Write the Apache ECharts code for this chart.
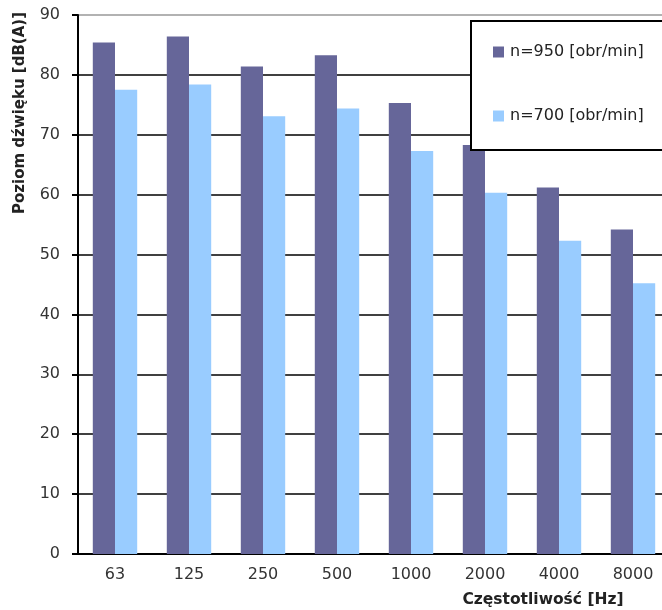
<!DOCTYPE html>
<html>
<head>
<meta charset="utf-8">
<script src="https://cdn.jsdelivr.net/npm/echarts@6/dist/echarts.min.js"></script>
<style>html,body{margin:0;padding:0;background:#fff}#c{width:662px;height:610px}</style>
</head>
<body>
<div id="c"></div>
<script>
var categories = ['63', '125', '250', '500', '1000', '2000', '4000', '8000'];
var n950 = [85.4, 86.4, 81.4, 83.3, 75.3, 68.3, 61.2, 54.2];
var n700 = [77.5, 78.4, 73.1, 74.4, 67.3, 60.3, 52.3, 45.2];
var seriesNames = ['n=950 [obr/min]', 'n=700 [obr/min]'];
var yTitle = 'Poziom dźwięku [dB(A)]';
var xTitle = 'Częstotliwość [Hz]';

var chart = echarts.init(document.getElementById('c'));
var font = 'DejaVu Sans, Verdana, sans-serif';
var gridColors = ['#000','#000','#000','#000','#000','#000','#000','#000','#000','#999'];
chart.setOption({
  animation: false,
  backgroundColor: '#fff',
  grid: { left: 78, top: 15, width: 592, height: 539, containLabel: false, outerBoundsMode: 'none' },
  legend: {
    orient: 'vertical',
    left: 471, top: 21,
    padding: [23, 50, 26, 22],
    itemGap: 48,
    itemWidth: 11, itemHeight: 11,
    icon: 'rect',
    backgroundColor: '#fff',
    borderColor: '#000', borderWidth: 2,
    textStyle: { fontFamily: font, fontSize: 16, color: '#222', padding: [0, 0, 0, 1] },
    data: seriesNames
  },
  xAxis: {
    type: 'category',
    data: categories,
    axisLine: { lineStyle: { color: '#000', width: 2 } },
    axisTick: { length: 6, lineStyle: { color: '#000', width: 2 } },
    axisLabel: { fontFamily: font, fontSize: 16, color: '#333', margin: 13 },
    name: xTitle,
    nameLocation: 'middle',
    nameGap: 0,
    nameTextStyle: { fontFamily: font, fontSize: 15.5, fontWeight: 'bold', color: '#222', padding: [38, 0, 0, 338] }
  },
  yAxis: {
    type: 'value',
    min: 0, max: 90, interval: 10,
    axisLine: { show: true, lineStyle: { color: '#000', width: 2 } },
    axisTick: { show: true, length: 6, lineStyle: { color: '#000', width: 2 } },
    axisLabel: { fontFamily: font, fontSize: 16, color: '#333', margin: 18 },
    splitLine: { show: true, lineStyle: { color: gridColors, width: 1.5 } }
  },
  graphic: [{
    type: 'text',
    x: 20, y: 113,
    rotation: Math.PI / 2,
    style: { text: yTitle, fontFamily: font, fontSize: 15, fontWeight: 'bold', fill: '#222', align: 'center', verticalAlign: 'middle' }
  }],
  series: [
    { name: seriesNames[0], type: 'bar', data: n950, barGap: '0%', barCategoryGap: '40%', itemStyle: { color: '#666699' } },
    { name: seriesNames[1], type: 'bar', data: n700, barGap: '0%', barCategoryGap: '40%', itemStyle: { color: '#99CCFF' } }
  ]
});
</script>
</body>
</html>
